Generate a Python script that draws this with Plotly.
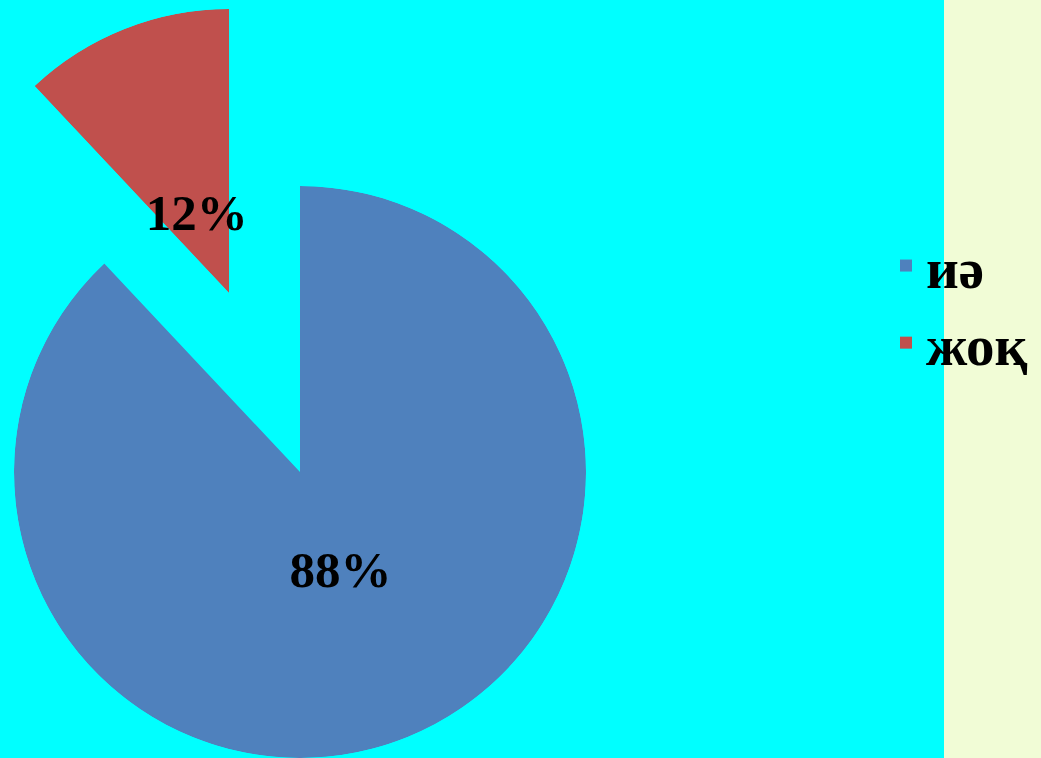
import math
import plotly.graph_objects as go

labels = ["иә", "жоқ"]
values = [88, 12]
colors = ["#4F81BD", "#C0504D"]

W, H = 1041, 758
total = sum(values)
spans = [v / total * 360 for v in values]
starts = [sum(spans[:i]) for i in range(len(spans))]
mids = [s + sp / 2 for s, sp in zip(starts, spans)]
pct = [f"{round(v / total * 100)}%" for v in values]

label_font = dict(family="Liberation Serif", size=51, color="black", weight="bold")

fig = go.Figure()

# blue slice in a full-circle polar subplot
fig.add_trace(go.Barpolar(
    r=[1], theta=[mids[0]], width=[spans[0]], name=labels[0],
    marker=dict(color=colors[0], line=dict(width=0)),
    subplot="polar", showlegend=True, hoverinfo="skip"))
fig.add_trace(go.Scatterpolar(
    r=[0.385], theta=[mids[0]], mode="text", text=[pct[0]],
    textfont=label_font, textposition="middle center",
    subplot="polar", showlegend=False, cliponaxis=False, hoverinfo="skip"))

# exploded red slice in a sector polar subplot
fig.add_trace(go.Barpolar(
    r=[1], theta=[mids[1]], width=[spans[1]], name=labels[1],
    marker=dict(color=colors[1], line=dict(width=0)),
    subplot="polar2", showlegend=True, hoverinfo="skip"))
fig.add_trace(go.Scatterpolar(
    r=[0.29], theta=[mids[1] - 1.5], mode="text", text=[pct[1]],
    textfont=label_font, textposition="middle center",
    subplot="polar2", showlegend=False, cliponaxis=False, hoverinfo="skip"))

# sector in screen angles (counterclockwise from east)
sec0 = 90
sec1 = 90 + spans[1]

R1 = 286
cx1, cy1 = 300, 472
R2 = 284
ax2, ay2 = 229, 293
bx0 = ax2 + R2 * math.cos(math.radians(sec1))

common_ax = dict(
    bgcolor="rgba(0,0,0,0)",
    radialaxis=dict(visible=False, range=[0, 1]),
    angularaxis=dict(visible=False, rotation=90, direction="clockwise"),
)

fig.update_layout(
    width=W, height=H,
    margin=dict(l=0, r=0, t=0, b=0),
    paper_bgcolor="#F1FCD6",
    plot_bgcolor="rgba(0,0,0,0)",
    polar=dict(
        domain=dict(x=[(cx1 - R1) / W, (cx1 + R1) / W],
                    y=[(H - cy1 - R1) / H, (H - cy1 + R1) / H]),
        **common_ax),
    polar2=dict(
        domain=dict(x=[bx0 / W, ax2 / W],
                    y=[(H - ay2) / H, (H - ay2 + R2) / H]),
        sector=[sec0, sec1],
        **common_ax),
    legend=dict(
        x=886 / W, y=1 - 222 / H, xanchor="left", yanchor="top",
        bgcolor="rgba(0,0,0,0)",
        font=dict(family="Liberation Serif", size=57, color="black", weight="bold"),
        tracegroupgap=0,
    ),
    shapes=[dict(type="rect", xref="paper", yref="paper", x0=0, x1=944 / W,
                 y0=0, y1=1, fillcolor="#00FFFF", line=dict(width=0), layer="below")],
)

fig.write_html("out.html", config={"displayModeBar": False},
               post_script="document.body.style.margin='0px';document.body.style.overflow='hidden';")
